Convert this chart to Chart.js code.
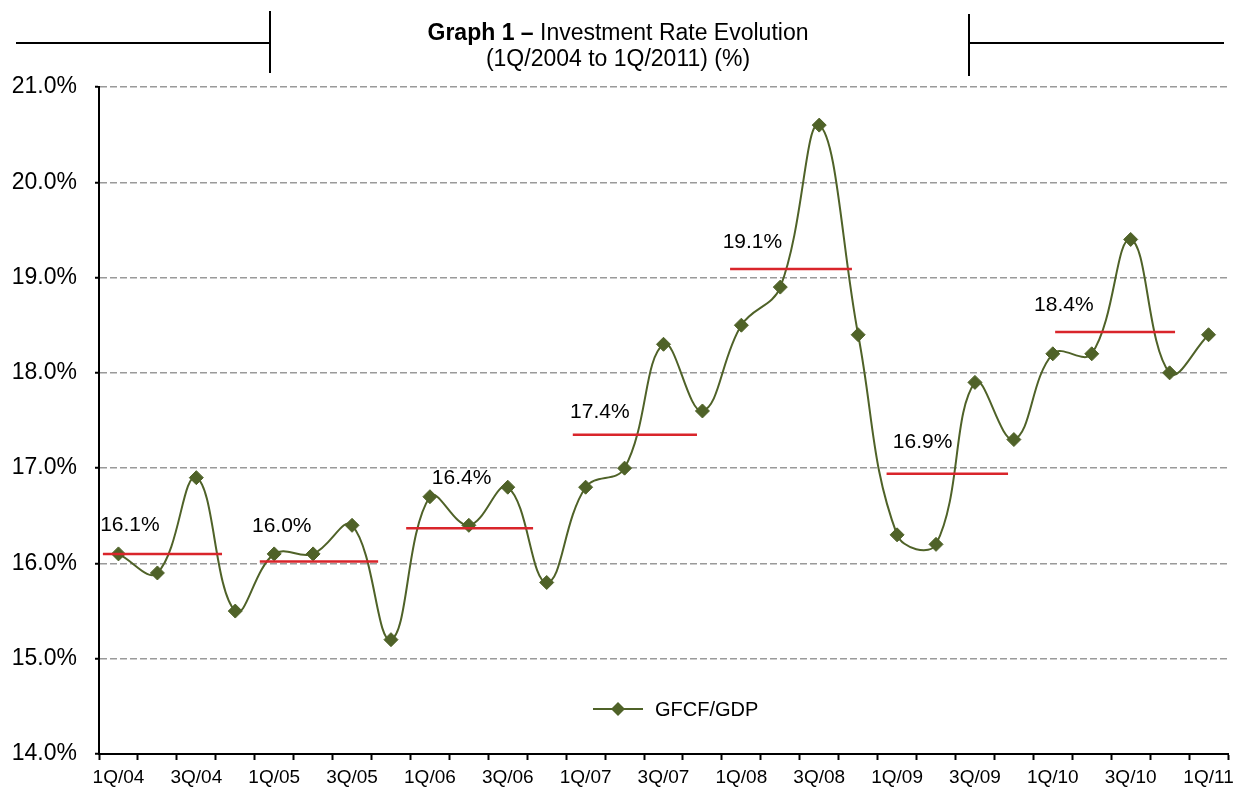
<!DOCTYPE html>
<html>
<head>
<meta charset="utf-8">
<script src="https://cdn.jsdelivr.net/npm/chart.js@4.4.1/dist/chart.umd.min.js"></script>
<style>
  html, body { margin: 0; padding: 0; background: #fff; }
  canvas { display: block; }
</style>
</head>
<body>
<canvas id="chart" width="1236" height="802"></canvas>
<script>
const quarters = ['1Q/04', '2Q/04', '3Q/04', '4Q/04', '1Q/05', '2Q/05', '3Q/05', '4Q/05',
  '1Q/06', '2Q/06', '3Q/06', '4Q/06', '1Q/07', '2Q/07', '3Q/07', '4Q/07',
  '1Q/08', '2Q/08', '3Q/08', '4Q/08', '1Q/09', '2Q/09', '3Q/09', '4Q/09',
  '1Q/10', '2Q/10', '3Q/10', '4Q/10', '1Q/11'];
const gfcfGdp = [16.1, 15.9, 16.9, 15.5, 16.1, 16.1, 16.4, 15.2,
  16.7, 16.4, 16.8, 15.8, 16.8, 17.0, 18.3, 17.6,
  18.5, 18.9, 20.6, 18.4, 16.3, 16.2, 17.9, 17.3,
  18.2, 18.2, 19.4, 18.0, 18.4];

// yearly averages (red lines), x in quarter index units
const avgValues = [16.1, 16.02, 16.37, 17.35, 19.09, 16.94, 18.43];
const avgLabels = ['16.1%', '16.0%', '16.4%', '17.4%', '19.1%', '16.9%', '18.4%'];
const avgStart = [-0.4, 3.63, 7.39, 11.67, 15.71, 19.73, 24.06];
const avgEnd = [2.66, 6.67, 10.65, 14.86, 18.84, 22.85, 27.14];
const avgLabelX = [-0.47, 3.43, 8.05, 11.6, 15.52, 19.89, 23.52];
const avgLabelY = [16.40, 16.39, 16.89, 17.59, 19.37, 17.27, 18.71];

const yTicks = [14, 15, 16, 17, 18, 19, 20, 21];

const GREEN = '#4F6228';
const RED = '#D9252B';
const FONT = "'Liberation Sans', Arial, sans-serif";

Chart.defaults.font.family = FONT;
Chart.defaults.color = '#000';

const avgDatasets = avgValues.map((v, i) => ({
  label: 'avg' + i,
  data: [{ x: avgStart[i], y: v }, { x: avgEnd[i], y: v }],
  borderColor: RED,
  borderWidth: 2.5,
  pointRadius: 0,
  tension: 0
}));

const titleDecor = {
  id: 'titleDecor',
  afterDraw(chart) {
    const ctx = chart.ctx;
    ctx.save();
    ctx.strokeStyle = '#000';
    ctx.lineWidth = 2;
    ctx.beginPath();
    ctx.moveTo(16, 43); ctx.lineTo(270, 43);
    ctx.moveTo(270, 11); ctx.lineTo(270, 73);
    ctx.moveTo(969, 14); ctx.lineTo(969, 76);
    ctx.moveTo(969, 43); ctx.lineTo(1224, 43);
    ctx.stroke();

    const cx = 618;
    const boldTxt = 'Graph 1 \u2013 ';
    const normTxt = 'Investment Rate Evolution';
    const boldFont = "bold 23px 'Liberation Sans Narrow', " + FONT;
    const normFont = '23px ' + FONT;
    ctx.font = boldFont;
    const wb = ctx.measureText(boldTxt).width;
    ctx.font = normFont;
    const wn = ctx.measureText(normTxt).width;
    let x = cx - (wb + wn) / 2;
    ctx.fillStyle = '#000';
    ctx.textBaseline = 'alphabetic';
    ctx.textAlign = 'left';
    ctx.font = boldFont;
    ctx.fillText(boldTxt, x, 40);
    ctx.font = normFont;
    ctx.fillText(normTxt, x + wb, 40);
    ctx.textAlign = 'center';
    ctx.fillText('(1Q/2004 to 1Q/2011) (%)', cx, 66);
    ctx.restore();
  }
};

const avgText = {
  id: 'avgText',
  afterDatasetsDraw(chart) {
    const ctx = chart.ctx;
    const xs = chart.scales.x, ys = chart.scales.y;
    ctx.save();
    ctx.font = '21px ' + FONT;
    ctx.fillStyle = '#000';
    ctx.textAlign = 'left';
    ctx.textBaseline = 'middle';
    avgLabels.forEach((t, i) => {
      ctx.fillText(t, xs.getPixelForValue(avgLabelX[i]), ys.getPixelForValue(avgLabelY[i]));
    });
    ctx.restore();
  }
};

const insideLegend = {
  id: 'insideLegend',
  afterDraw(chart) {
    const ctx = chart.ctx;
    const ds = chart.data.datasets[chart.data.datasets.length - 1];
    const y = 709, x0 = 593;
    ctx.save();
    ctx.strokeStyle = ds.borderColor;
    ctx.lineWidth = ds.borderWidth;
    ctx.beginPath();
    ctx.moveTo(x0, y); ctx.lineTo(x0 + 50, y);
    ctx.stroke();
    ctx.fillStyle = ds.pointBackgroundColor;
    ctx.beginPath();
    ctx.moveTo(x0 + 25 - 7, y); ctx.lineTo(x0 + 25, y - 7);
    ctx.lineTo(x0 + 25 + 7, y); ctx.lineTo(x0 + 25, y + 7);
    ctx.closePath();
    ctx.fill();
    ctx.font = '20px ' + FONT;
    ctx.fillStyle = '#000';
    ctx.textBaseline = 'middle';
    ctx.fillText(ds.label, x0 + 62, y + 1);
    ctx.restore();
  }
};

new Chart(document.getElementById('chart'), {
  type: 'line',
  data: {
    datasets: [
      ...avgDatasets,
      {
        label: 'GFCF/GDP',
        data: quarters.map((q, i) => ({ x: i, y: gfcfGdp[i] })),
        borderColor: GREEN,
        backgroundColor: GREEN,
        pointBackgroundColor: GREEN,
        pointBorderColor: GREEN,
        borderWidth: 2,
        pointStyle: 'rectRot',
        pointRadius: 7,
        pointBorderWidth: 1,
        tension: 0.4
      }
    ]
  },
  options: {
    responsive: false,
    animation: false,
    layout: { padding: { top: 87, right: 8, left: 0, bottom: 0 } },
    plugins: {
      legend: { display: false },
      tooltip: { enabled: false }
    },
    scales: {
      x: {
        type: 'linear',
        min: -0.5,
        max: quarters.length - 0.5,
        afterBuildTicks(scale) {
          const t = [];
          for (let v = -0.5; v <= quarters.length - 0.5; v += 0.5) t.push({ value: v });
          scale.ticks = t;
        },
        afterFit(scale) { scale.height = 48; },
        grid: {
          drawOnChartArea: false,
          drawTicks: true,
          tickLength: 6,
          tickWidth: 2,
          tickColor: (c) => Number.isInteger(c.tick && c.tick.value) ? 'rgba(0,0,0,0)' : '#000'
        },
        border: { display: true, color: '#000', width: 2 },
        ticks: {
          autoSkip: false,
          maxRotation: 0,
          padding: 6,
          font: { size: 19 },
          callback: (v) => (Number.isInteger(v) && v % 2 === 0) ? quarters[v] : ''
        }
      },
      y: {
        min: 14,
        max: 21,
        afterBuildTicks(scale) { scale.ticks = yTicks.map(v => ({ value: v })); },
        afterFit(scale) { scale.width = 99; },
        grid: {
          color: '#9a9a9a',
          lineWidth: 1.5,
          tickLength: 4,
          tickColor: '#000',
          tickWidth: 2
        },
        border: { display: true, color: '#000', width: 2, dash: [7, 3] },
        ticks: {
          padding: 18,
          font: { size: 23 },
          callback: (v) => v.toFixed(1) + '%'
        }
      }
    }
  },
  plugins: [titleDecor, avgText, insideLegend]
});
</script>
</body>
</html>
